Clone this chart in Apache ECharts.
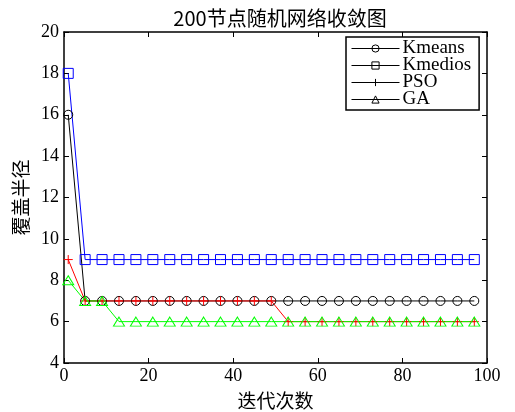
<!DOCTYPE html>
<html><head><meta charset="utf-8">
<script src="https://cdn.jsdelivr.net/npm/echarts@6/dist/echarts.min.js"></script>
<style>html,body{margin:0;padding:0;background:#fff}#c{width:515px;height:412px}</style>
</head><body><div id="c"></div>
<script>
const iterations = [1,5,9,13,17,21,25,29,33,37,41,45,49,53,57,61,65,69,73,77,81,85,89,93,97];
const kmeans  = [16,7,7,7,7,7,7,7,7,7,7,7,7,7,7,7,7,7,7,7,7,7,7,7,7];
const kmedios = [18,9,9,9,9,9,9,9,9,9,9,9,9,9,9,9,9,9,9,9,9,9,9,9,9];
const pso     = [9,7,7,7,7,7,7,7,7,7,7,7,7,6,6,6,6,6,6,6,6,6,6,6,6];
const ga      = [8,7,7,6,6,6,6,6,6,6,6,6,6,6,6,6,6,6,6,6,6,6,6,6,6];
const seriesNames = ['Kmeans','Kmedios','PSO','GA'];
const titleText = '200节点随机网络收敛图';
const xName = '迭代次数';
const yName = '覆盖半径';

const serif = '"Liberation Serif","DejaVu Serif","Noto Sans CJK SC",serif';
const cjk = '"Noto Sans CJK SC",serif';
const plus = 'path://M0,5L10,5M5,0L5,10';
const pair = arr => iterations.map((x,i)=>[x,arr[i]]);
const specs = [
  {name: seriesNames[0], data: kmeans, color:'#000000', symbol:'circle', size:9},
  {name: seriesNames[1], data: kmedios, color:'#0000ff', symbol:'rect', size:10},
  {name: seriesNames[2], data: pso, color:'#ff0000', symbol:plus, size:9},
  {name: seriesNames[3], data: ga, color:'#00ff00', symbol:'triangle', size:[11,9]}
];
const chart = echarts.init(document.getElementById('c'));
const axisCommon = {
  axisLine:{show:true, onZero:false, lineStyle:{color:'#000', width:1.5}},
  axisTick:{show:true, inside:true, length:5, lineStyle:{color:'#000', width:1}},
  splitLine:{show:false}
};
chart.setOption({
  animation:false,
  backgroundColor:'#fff',
  title:{text:titleText, left:275, textAlign:'center', top:3,
    textStyle:{fontFamily:cjk, fontWeight:'normal', fontSize:20, color:'#000'}},
  grid:{left:64, right:28, top:32, bottom:49, containLabel:false, outerBoundsMode:'none'},
  xAxis:[
    Object.assign({type:'value', min:0, max:100, interval:20, position:'bottom',
      name:xName, nameLocation:'middle', nameGap:28,
      nameTextStyle:{fontFamily:cjk, fontSize:19, color:'#000'},
      axisLabel:{fontFamily:serif, fontSize:18, color:'#000', margin:4}}, axisCommon),
    Object.assign({type:'value', min:0, max:100, interval:20, position:'top',
      axisLabel:{show:false}}, axisCommon)
  ],
  yAxis:[
    Object.assign({type:'value', min:4, max:20, interval:2, position:'left',
      name:yName, nameLocation:'middle', nameGap:30, nameRotate:90,
      nameTextStyle:{fontFamily:cjk, fontSize:19, color:'#000'},
      axisLabel:{fontFamily:serif, fontSize:18, color:'#000', margin:5}}, axisCommon),
    Object.assign({type:'value', min:4, max:20, interval:2, position:'right',
      axisLabel:{show:false}}, axisCommon)
  ],
  legend:{
    orient:'vertical', left:346, top:37, padding:[2,8,1,5], itemGap:-2,
    itemWidth:48, itemHeight:9,
    backgroundColor:'#fff', borderColor:'#000', borderWidth:1.5,
    textStyle:{fontFamily:serif, fontSize:19, color:'#000', padding:[0,0,0,-2]},
    data: specs.map(s=>({name:s.name,
      itemStyle:{color:'rgba(0,0,0,0)', borderColor:'#000', borderWidth:1},
      lineStyle:{color:'#000', width:1}}))
  },
  series: specs.map(s=>({
    name:s.name, type:'line', data:pair(s.data),
    symbol:s.symbol, symbolSize:s.size, showAllSymbol:true,
    lineStyle:{color:s.color, width:1},
    itemStyle:{color:'rgba(0,0,0,0)', borderColor:s.color, borderWidth:1},
    emphasis:{disabled:true}
  }))
});
</script></body></html>
